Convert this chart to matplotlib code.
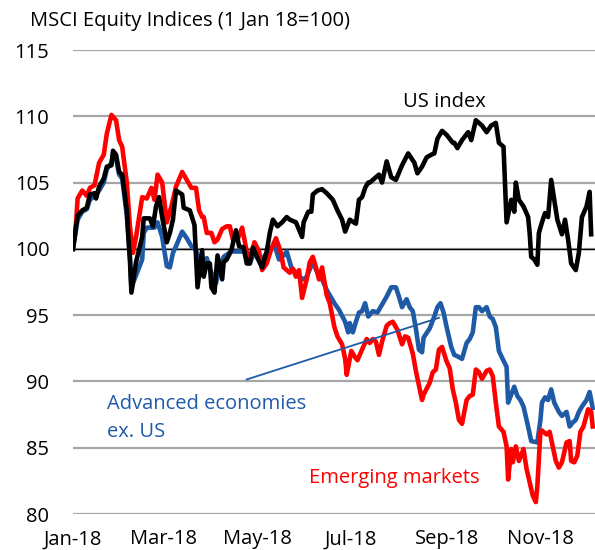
import pandas as pd
import matplotlib
matplotlib.use("Agg")
import matplotlib.pyplot as plt
import matplotlib.dates as mdates

plt.rcParams["font.family"] = ["Open Sans", "DejaVu Sans"]

START = pd.Timestamp("2018-01-01")

# (days since 1 Jan 2018, index level)
us_index = [
    (0, 100.0), (3, 102.5), (6, 102.9), (9, 103.1), (11, 104.1), (14, 104.2), (15, 103.8),
    (17, 104.7), (20, 105.3), (22, 106.2), (25, 106.3), (26, 107.4), (28, 107.1), (30, 105.8),
    (32, 105.6), (35, 102.9), (36, 100.9), (37, 99.2), (38, 96.7), (41, 99.0), (45, 100.9),
    (46, 102.3), (50, 102.3), (52, 101.7), (54, 103.2), (56, 103.9), (58, 102.4), (61, 100.5),
    (63, 101.2), (65, 102.2), (67, 104.4), (71, 104.1), (72, 103.1), (76, 102.9), (79, 101.8),
    (81, 97.1), (84, 99.9), (85, 97.9), (87, 98.9), (89, 98.9), (90, 97.1), (92, 96.7),
    (94, 99.5), (97, 97.7), (98, 99.0), (100, 99.2), (103, 99.9), (106, 101.4), (108, 100.2),
    (111, 100.1), (113, 98.9), (115, 98.9), (117, 100.1), (120, 99.3), (123, 98.6), (126, 99.8),
    (128, 101.2), (130, 102.2), (133, 101.7), (136, 102.0), (139, 102.4), (141, 102.2),
    (145, 102.0), (149, 100.9), (150, 102.0), (153, 102.8), (155, 102.8), (156, 104.1),
    (159, 104.4), (162, 104.5), (165, 104.2), (169, 103.7), (172, 102.9), (175, 102.2),
    (177, 101.3), (180, 102.2), (184, 101.9), (186, 103.7), (188, 103.9), (190, 104.6),
    (192, 105.0), (193, 105.0), (196, 105.3), (199, 105.6), (201, 105.0), (204, 106.6),
    (207, 105.4), (210, 105.2), (214, 106.3), (218, 107.2), (222, 106.5), (224, 105.7),
    (227, 106.2), (230, 106.9), (233, 107.1), (235, 107.2), (237, 108.3), (240, 108.9),
    (243, 108.6), (247, 108.0), (248, 108.0), (250, 107.6), (253, 108.2), (257, 108.8),
    (259, 108.2), (262, 109.7), (266, 109.3), (269, 108.8), (272, 109.3), (275, 109.5),
    (277, 108.0), (280, 107.7), (282, 102.0), (285, 103.7), (287, 102.8), (288, 105.0),
    (290, 103.7), (293, 103.2), (296, 102.4), (297, 101.2), (298, 99.4), (300, 99.2),
    (302, 98.8), (303, 101.2), (305, 102.0), (307, 102.7), (309, 102.4), (311, 105.2),
    (313, 103.7), (315, 102.2), (318, 101.1), (320, 102.2), (322, 100.7), (324, 98.9),
    (327, 98.4), (329, 99.7), (331, 102.4), (334, 103.2), (336, 104.3), (337, 101.1),
]

adv_ex_us = [
    (0, 100.0), (3, 102.2), (6, 102.8), (9, 103.0), (11, 103.7), (14, 104.0), (17, 104.4),
    (20, 105.0), (22, 106.0), (25, 106.5), (26, 107.0), (28, 106.8), (30, 105.6), (32, 105.3),
    (35, 102.5), (37, 99.5), (38, 97.1), (41, 98.0), (45, 99.2), (46, 101.2), (48, 101.6),
    (51, 101.6), (53, 101.6), (55, 102.0), (58, 100.9), (61, 98.7), (63, 98.6), (65, 99.7),
    (67, 100.2), (71, 101.3), (74, 100.8), (77, 100.2), (80, 99.9), (82, 99.2), (85, 98.8),
    (87, 99.3), (90, 98.2), (93, 97.4), (95, 98.5), (98, 99.4), (103, 99.8), (106, 99.8),
    (111, 99.8), (115, 98.9), (118, 99.8), (123, 99.2), (126, 99.7), (131, 100.3), (134, 99.2),
    (137, 99.5), (139, 99.8), (142, 98.6), (145, 98.2), (147, 97.9), (150, 97.7), (152, 97.9),
    (156, 99.0), (159, 98.2), (162, 97.7), (165, 96.9), (167, 96.5), (170, 95.9), (173, 95.4),
    (177, 94.5), (179, 93.7), (180, 94.4), (182, 93.7), (184, 94.5), (186, 95.2), (188, 95.3),
    (190, 95.9), (192, 94.9), (195, 95.3), (198, 95.2), (200, 95.6), (204, 96.4), (207, 97.1),
    (210, 97.1), (212, 96.4), (214, 95.6), (217, 96.2), (219, 95.6), (221, 95.3), (223, 94.0),
    (225, 92.4), (227, 92.2), (228, 93.3), (232, 94.0), (235, 94.9), (237, 95.6), (239, 95.9),
    (241, 95.2), (243, 94.1), (246, 92.6), (248, 92.0), (250, 91.9), (253, 91.7), (256, 92.9),
    (258, 93.2), (260, 93.7), (262, 95.6), (264, 95.6), (266, 95.3), (269, 95.6), (271, 94.9),
    (273, 94.7), (275, 94.1), (277, 92.3), (279, 91.8), (282, 91.1), (283, 88.4), (285, 89.0),
    (287, 89.6), (289, 88.9), (291, 88.6), (293, 88.1), (296, 86.6), (298, 85.5), (302, 85.4),
    (304, 87.1), (305, 88.4), (307, 88.8), (309, 88.6), (311, 89.4), (313, 88.4), (316, 87.7),
    (318, 87.4), (321, 87.7), (323, 86.6), (325, 86.9), (327, 87.1), (329, 87.7), (331, 88.1),
    (334, 88.6), (336, 89.2), (338, 88.0),
]

emerging = [
    (0, 100.0), (2, 102.0), (3, 103.8), (6, 104.4), (9, 104.0), (11, 104.6), (14, 104.8),
    (17, 106.5), (20, 107.1), (22, 108.7), (25, 110.1), (28, 109.7), (30, 108.2), (32, 107.7),
    (35, 105.0), (37, 101.7), (39, 99.7), (41, 100.9), (45, 103.9), (48, 103.8), (51, 104.6),
    (53, 103.7), (55, 105.6), (58, 105.0), (61, 102.0), (64, 103.2), (67, 104.7), (71, 105.8),
    (74, 105.2), (77, 104.6), (80, 104.6), (82, 102.9), (84, 102.4), (85, 102.4), (87, 101.2),
    (90, 101.2), (92, 100.5), (94, 100.7), (97, 101.5), (100, 101.7), (102, 101.7), (104, 100.7),
    (107, 100.7), (110, 101.6), (113, 99.8), (115, 99.2), (118, 100.5), (121, 99.8), (123, 98.4),
    (126, 98.9), (129, 100.0), (132, 100.8), (135, 99.8), (137, 98.6), (141, 98.2), (143, 98.5),
    (145, 97.9), (147, 98.4), (149, 96.3), (152, 97.7), (154, 99.0), (156, 99.4), (158, 98.6),
    (160, 97.7), (162, 98.6), (165, 96.5), (167, 95.9), (170, 94.1), (172, 93.4), (175, 92.8),
    (177, 91.7), (178, 90.5), (181, 92.3), (183, 91.9), (185, 91.6), (188, 92.4), (191, 93.2),
    (193, 92.9), (195, 93.2), (197, 93.0), (199, 92.0), (201, 93.0), (204, 94.2), (206, 94.4),
    (208, 94.5), (211, 93.9), (214, 92.8), (216, 93.4), (218, 93.3), (221, 92.1), (223, 90.8),
    (225, 89.7), (227, 88.6), (228, 89.0), (232, 89.9), (234, 90.7), (236, 90.9), (238, 92.4),
    (240, 92.6), (243, 91.5), (245, 91.0), (247, 89.4), (249, 88.4), (251, 87.1), (253, 86.8),
    (256, 88.6), (258, 88.9), (260, 89.0), (262, 90.9), (264, 90.7), (266, 90.2), (269, 90.8),
    (271, 90.9), (273, 90.4), (275, 88.4), (277, 86.6), (280, 86.2), (282, 85.1), (283, 82.6),
    (285, 84.9), (286, 83.9), (288, 85.1), (290, 84.0), (293, 84.9), (295, 83.4), (297, 82.4),
    (299, 81.4), (301, 80.9), (302, 82.1), (304, 86.2), (305, 86.3), (308, 86.0), (310, 86.2),
    (312, 85.1), (314, 84.0), (316, 83.5), (318, 83.9), (321, 85.4), (323, 85.5), (324, 84.0),
    (326, 83.9), (328, 84.4), (330, 86.2), (332, 86.6), (335, 87.9), (337, 87.7), (338, 86.6),
]

y_ticks = [80, 85, 90, 95, 100, 105, 110, 115]
tick_months = ["2018-01-01", "2018-03-01", "2018-05-01", "2018-07-01", "2018-09-01", "2018-11-01"]

BLUE = "#1f5aa6"
RED = "#ff0000"
GREY = "#a6a6a6"
FS = 14.5


def to_xy(series):
    days, vals = zip(*series)
    dates = START + pd.to_timedelta(list(days), unit="D")
    return dates, list(vals)


def day(n):
    return mdates.date2num(START + pd.Timedelta(days=n))


fig = plt.figure(figsize=(5.95, 5.5), dpi=100)
ax = fig.add_axes([73 / 595, 36 / 550, 522 / 595, 464 / 550])

ax.set_ylim(80, 115)
ax.set_xlim(START, START + pd.Timedelta(days=339.5))
ax.set_yticks(y_ticks)
ax.yaxis.grid(True, color=GREY, lw=1.6)
ax.set_axisbelow(True)
ax.axhline(100, color="black", lw=1.0, zorder=1.5)

for s in ax.spines.values():
    s.set_visible(False)

x, y = to_xy(adv_ex_us)
ax.plot(x, y, color=BLUE, lw=3.3, zorder=3)
x, y = to_xy(emerging)
ax.plot(x, y, color=RED, lw=3.3, zorder=4)
x, y = to_xy(us_index)
ax.plot(x, y, color="black", lw=3.3, zorder=5)

ax.set_xticks(pd.to_datetime(tick_months))
ax.xaxis.set_major_formatter(mdates.DateFormatter("%b-%y"))
ax.tick_params(axis="both", length=0, labelsize=FS, colors="black")
ax.tick_params(axis="y", pad=17)
ax.tick_params(axis="x", pad=11)

# labels
ax.text(day(241.5), 111.1, "US index", color="black", fontsize=FS, ha="center", va="center")
ax.text(day(22.0), 88.3, "Advanced economies", color=BLUE, fontsize=FS, ha="left", va="center")
ax.text(day(22.0), 86.2, "ex. US", color=BLUE, fontsize=FS, ha="left", va="center")
ax.plot([day(113), day(238)], [90.15, 94.8], color=BLUE, lw=1.3, zorder=6)
ax.text(day(209), 82.7, "Emerging markets", color=RED, fontsize=FS, ha="center", va="center")

fig.text(30 / 595, 1 - 21 / 550, "MSCI Equity Indices (1 Jan 18=100)", fontsize=FS,
         ha="left", va="center")

fig.savefig("out.png", dpi=100)
